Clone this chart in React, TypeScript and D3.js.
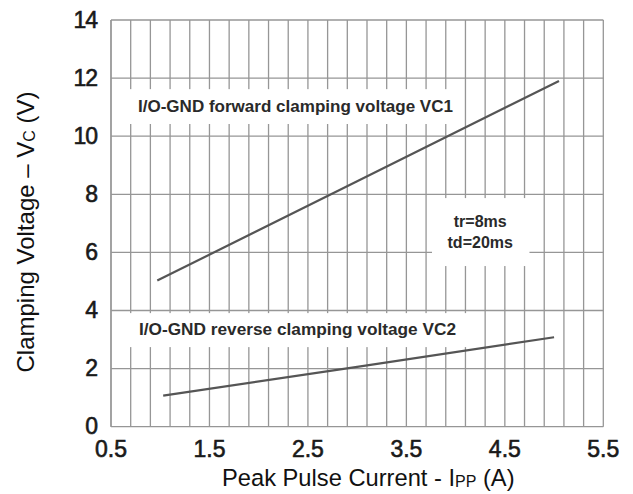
import React from 'react';
import * as d3 from 'd3';

// values
const forwardCurrent = [0.97, 3.0, 5.05];
const forwardVoltage = [5.03, 8.45, 11.9];
const reverseCurrent = [1.03, 3.0, 5.0];
const reverseVoltage = [1.07, 2.06, 3.08];

const xTickLabels = ['0.5', '1.5', '2.5', '3.5', '4.5', '5.5'];
const yTickLabels = ['0', '2', '4', '6', '8', '10', '12', '14'];

const forwardLabel = 'I/O-GND forward clamping voltage VC1';
const reverseLabel = 'I/O-GND reverse clamping voltage VC2';
const pulseLabels = ['tr=8ms', 'td=20ms'];

const W = 633;
const H = 494;
const FONT = '"Liberation Sans", Arial, sans-serif';
const GRID = '#969696';
const INK = '#555';

const App = () => {
  const x = d3.scaleLinear().domain([0.5, 5.5]).range([111, 603.3]);
  const y = d3.scaleLinear().domain([0, 14]).range([426.7, 20]);

  const vLines = d3.range(0, 26).map(i => 0.5 + i * 0.2);
  const hLines = yTickLabels.map(Number);

  const line = d3.line<[number, number]>()
    .x(d => x(d[0]))
    .y(d => y(d[1]));

  const fwd = forwardCurrent.map((c, i) => [c, forwardVoltage[i]] as [number, number]);
  const rev = reverseCurrent.map((c, i) => [c, reverseVoltage[i]] as [number, number]);

  // white patches behind the labels (data coords)
  const boxes = [
    { x0: 0.5, x1: 4.0, y0: 10.42, y1: 11.62 },
    { x0: 0.5, x1: 4.2, y0: 2.74, y1: 3.91 },
    { x0: 3.75, x1: 4.75, y0: 5.53, y1: 7.87 },
  ];

  return (
    <svg width={W} height={H} style={{ position: 'absolute', left: 0, top: 0, background: '#fff' }}
      fontFamily={FONT}>
      {/* grid */}
      {vLines.map((v, i) => (
        <line key={'v' + i} x1={x(v)} x2={x(v)} y1={y(0)} y2={y(14)} stroke={GRID} strokeWidth={1.3} />
      ))}
      {hLines.map((v, i) => (
        <line key={'h' + i} x1={x(0.5)} x2={x(5.5)} y1={y(v)} y2={y(v)} stroke={GRID} strokeWidth={1.3} />
      ))}

      {boxes.map((b, i) => (
        <rect key={'b' + i} x={x(b.x0) + 1} y={y(b.y1)} width={x(b.x1) - x(b.x0) - 1}
          height={y(b.y0) - y(b.y1)} fill="#fff" />
      ))}
      <line x1={x(0.5)} x2={x(0.5)} y1={y(0)} y2={y(14)} stroke={GRID} strokeWidth={1.3} />

      {/* curves */}
      <path d={line(fwd) || ''} fill="none" stroke={INK} strokeWidth={2.2} />
      <path d={line(rev) || ''} fill="none" stroke={INK} strokeWidth={2.2} />

      {/* in-plot labels */}
      <text x={138} y={y(11.62) + 22.5} fontSize={17} fontWeight="bold" fill="#2a2a2a"
        textLength={315} lengthAdjust="spacingAndGlyphs">{forwardLabel}</text>
      <text x={139} y={y(3.91) + 22} fontSize={17} fontWeight="bold" fill="#2a2a2a"
        textLength={317} lengthAdjust="spacingAndGlyphs">{reverseLabel}</text>
      {pulseLabels.map((t, i) => (
        <text key={t} x={x(4.25)} y={226.7 + i * 21.6} fontSize={16} fontWeight="bold" fill="#2a2a2a"
          textAnchor="middle">{t}</text>
      ))}

      {/* ticks */}
      {yTickLabels.map(t => (
        <text key={'yt' + t} x={97} y={y(+t) + 7.5} fontSize={23} textAnchor="end" fill="#1a1a1a"
          stroke="#1a1a1a" strokeWidth={0.6} letterSpacing={-1}>{t}</text>
      ))}
      {xTickLabels.map(t => (
        <text key={'xt' + t} x={x(+t)} y={457} fontSize={23} textAnchor="middle" fill="#1a1a1a"
          stroke="#1a1a1a" strokeWidth={0.6}>{t}</text>
      ))}

      {/* axis titles */}
      <text x={222} y={486} fontSize={23.7} fill="#111">
        Peak Pulse Current - I<tspan fontSize={16} dy={1}>PP</tspan><tspan dy={-1}> (A)</tspan>
      </text>
      <text transform="translate(34,232) rotate(-90)" textAnchor="middle" fontSize={24} fill="#111">
        Clamping Voltage – V<tspan fontSize={16} dy={1}>C</tspan><tspan dy={-1}> (V)</tspan>
      </text>
    </svg>
  );
};

export default App;
